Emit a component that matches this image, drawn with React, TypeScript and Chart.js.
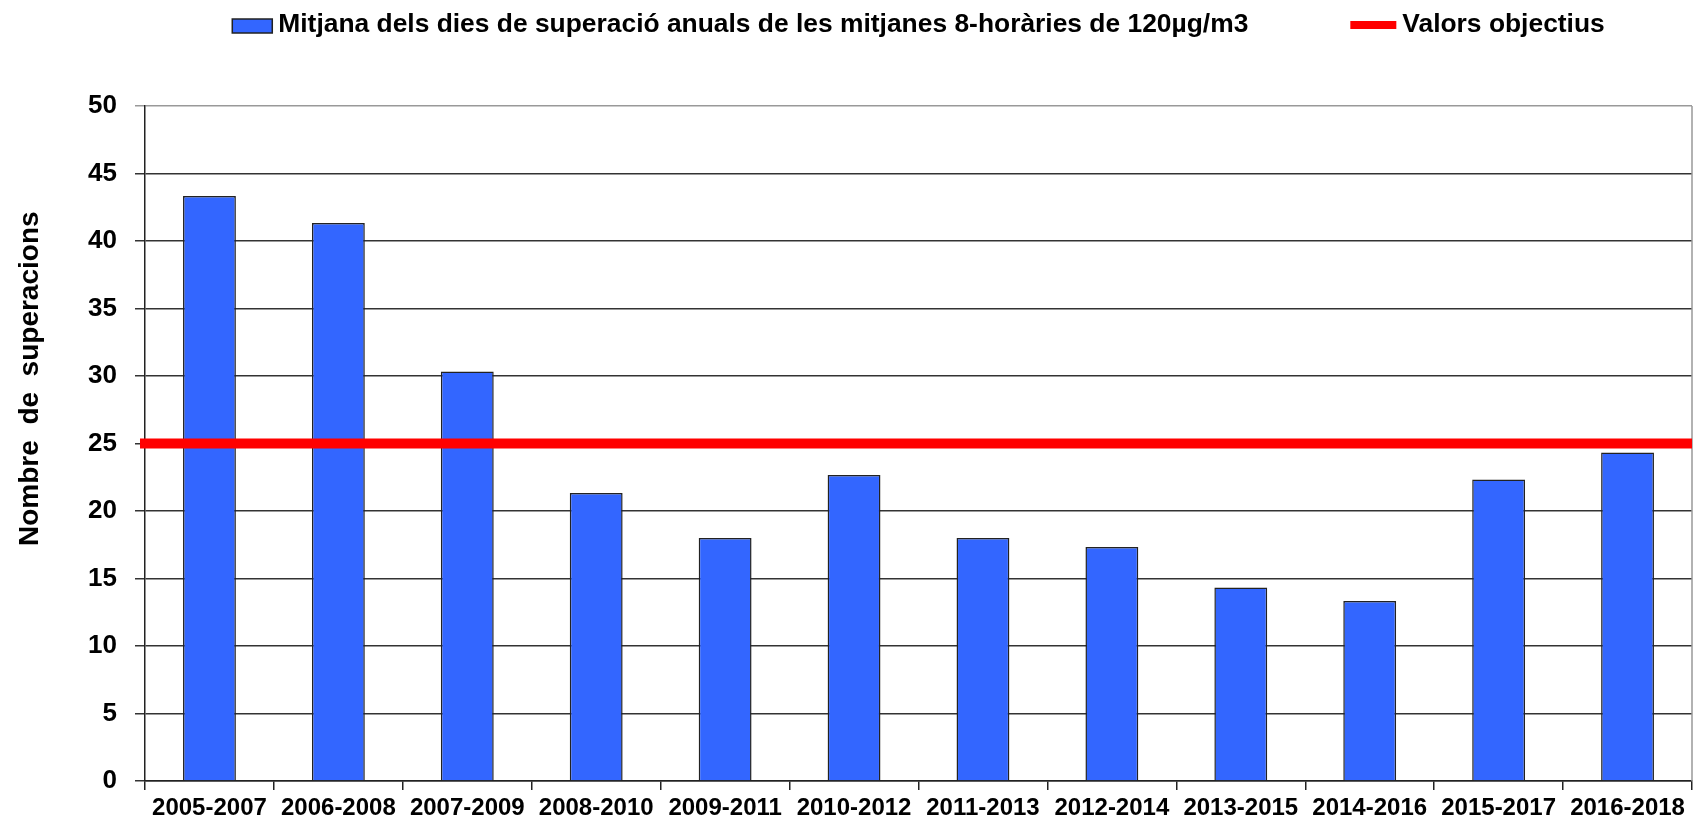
import React, { useEffect, useRef } from "react";
import { Chart, registerables } from "chart.js";

Chart.register(...registerables);

const CATEGORIES = [
  "2005-2007", "2006-2008", "2007-2009", "2008-2010", "2009-2011", "2010-2012",
  "2011-2013", "2012-2014", "2013-2015", "2014-2016", "2015-2017", "2016-2018",
];
const EXCEEDANCE_DAYS = [43.33, 41.33, 30.33, 21.33, 18.0, 22.67, 18.0, 17.33, 14.33, 13.33, 22.33, 24.33];
const TARGET_VALUES = [25, 25, 25, 25, 25, 25, 25, 25, 25, 25, 25, 25];
const BAR_LABEL = "Mitjana dels dies de superació anuals de les mitjanes 8-horàries de 120µg/m3";
const LINE_LABEL = "Valors objectius";
const Y_TITLE = "Nombre  de  superacions";
const Y_MIN = 0;
const Y_MAX = 50;
const Y_STEP = 5;

const FONT = "'Liberation Sans', Arial, sans-serif";
const BAR_COLOR = "#3366FF";
const LINE_COLOR = "#FF0000";

const legendPlugin = {
  id: "customLegend",
  afterDraw(chart: any) {
    const ctx = chart.ctx;
    const ds = chart.data.datasets;
    ctx.save();
    ctx.font = `bold 26.4px ${FONT}`;
    ctx.textBaseline = "middle";
    ctx.textAlign = "left";
    const w0 = ctx.measureText(ds[0].label).width;
    const w1 = ctx.measureText(ds[1].label).width;
    const box = 40, gap = 6, between = 102, lineLen = 46;
    const total = box + gap + w0 + between + lineLen + gap + w1;
    const { left, right } = chart.chartArea;
    let x = (left + right) / 2 - total / 2;
    const y = 26;
    ctx.fillStyle = ds[0].backgroundColor;
    ctx.fillRect(x, y - 7, box, 14);
    ctx.strokeStyle = "#222";
    ctx.lineWidth = 1.5;
    ctx.strokeRect(x, y - 7, box, 14);
    x += box + gap;
    ctx.fillStyle = "#000";
    ctx.fillText(ds[0].label, x, y - 1);
    x += w0 + between;
    ctx.strokeStyle = ds[1].borderColor;
    ctx.lineWidth = 8;
    ctx.beginPath();
    ctx.moveTo(x, y - 1);
    ctx.lineTo(x + lineLen, y - 1);
    ctx.stroke();
    x += lineLen + gap;
    ctx.fillText(ds[1].label, x, y - 1);
    ctx.restore();
  },
};

const yTitlePlugin = {
  id: "yTitle",
  afterDraw(chart: any) {
    const ctx = chart.ctx;
    const { top, bottom } = chart.chartArea;
    ctx.save();
    ctx.translate(30, top + (bottom - top) * 0.404);
    ctx.rotate(-Math.PI / 2);
    ctx.font = `bold 28px ${FONT}`;
    ctx.fillStyle = "#000";
    ctx.textAlign = "center";
    ctx.textBaseline = "middle";
    ctx.fillText(Y_TITLE, 0, 0);
    ctx.restore();
  },
};

const frameRightPlugin = {
  id: "frameRight",
  beforeDatasetsDraw(chart: any) {
    const ctx = chart.ctx;
    const { top, bottom, right } = chart.chartArea;
    ctx.save();
    ctx.strokeStyle = "#999";
    ctx.lineWidth = 1.5;
    ctx.beginPath();
    ctx.moveTo(right, top);
    ctx.lineTo(right, bottom);
    ctx.stroke();
    ctx.restore();
  },
};

export default function App() {
  const ref = useRef<HTMLCanvasElement | null>(null);

  useEffect(() => {
    document.body.style.margin = "0";
    const canvas = ref.current;
    if (!canvas) return;
    const chart = new Chart(canvas, {
      type: "bar",
      data: {
        labels: CATEGORIES,
        datasets: [
          {
            type: "bar",
            label: BAR_LABEL,
            data: EXCEEDANCE_DAYS,
            backgroundColor: BAR_COLOR,
            borderColor: "#222",
            borderWidth: 1.5,
            barPercentage: 0.41,
            categoryPercentage: 1,
            grouped: false,
            order: 1,
          } as any,
          {
            type: "line",
            label: LINE_LABEL,
            data: TARGET_VALUES,
            xAxisID: "x2",
            borderColor: LINE_COLOR,
            backgroundColor: LINE_COLOR,
            borderWidth: 10,
            borderCapStyle: "square",
            pointRadius: 0,
            fill: false,
            order: 0,
            clip: { left: 10, right: 0, top: 10, bottom: 10 },
          } as any,
        ],
      },
      options: {
        responsive: false,
        animation: false,
        layout: { padding: { top: 106, right: 3, left: 0, bottom: 0 } },
        plugins: {
          legend: { display: false },
          tooltip: { enabled: false },
          title: { display: false },
        },
        scales: {
          x: {
            type: "category",
            offset: true,
            afterFit: (scale: any) => { scale.height = 42; },
            grid: {
              offset: true,
              drawOnChartArea: false,
              drawTicks: true,
              tickLength: 9,
              color: "#222",
              lineWidth: 1.5,
            },
            border: { display: true, color: "#222", width: 1.5 },
            ticks: {
              font: { family: FONT, size: 24, weight: "bold" },
              color: "#000",
              padding: 4,
              maxRotation: 0,
              autoSkip: false,
            },
          },
          x2: {
            type: "category",
            labels: CATEGORIES,
            offset: false,
            display: false,
          },
          y: {
            min: Y_MIN,
            max: Y_MAX,
            afterFit: (scale: any) => { scale.width = 145; },
            grid: {
              color: (c: any) => (c.tick && c.tick.value === Y_MAX ? "#999" : "#333"),
              lineWidth: 1.5,
              tickLength: 10,
              drawTicks: true,
            },
            border: { display: true, color: "#222", width: 1.5 },
            ticks: {
              stepSize: Y_STEP,
              font: { family: FONT, size: 26, weight: "bold" },
              color: "#000",
              padding: 18,
            },
          },
        },
      } as any,
      plugins: [frameRightPlugin, legendPlugin, yTitlePlugin],
    });
    return () => chart.destroy();
  }, []);

  return (
    <div style={{ position: "fixed", left: 0, top: 0, width: 1695, height: 823, background: "#fff" }}>
      <canvas ref={ref} width={1695} height={823} style={{ display: "block" }} />
    </div>
  );
}
